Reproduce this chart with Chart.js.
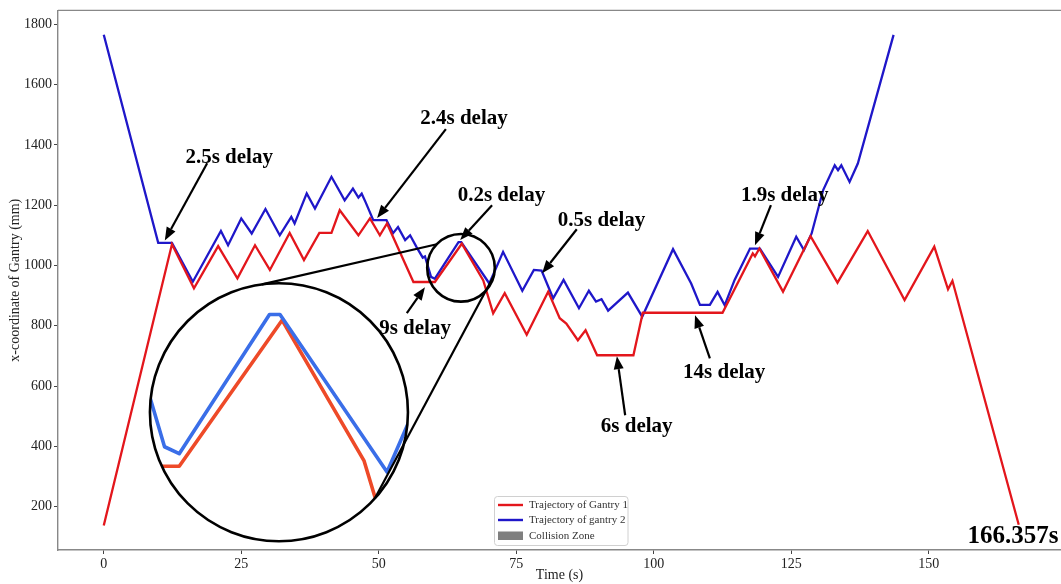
<!DOCTYPE html>
<html>
<head>
<meta charset="utf-8">
<script src="https://cdn.jsdelivr.net/npm/chart.js@4.4.1/dist/chart.umd.min.js"></script>
<style>
  html, body { margin: 0; padding: 0; background: #fff; overflow: hidden; }
  #wrap { width: 1061px; height: 584px; position: relative; }
</style>
</head>
<body>
<div id="wrap"><canvas id="c" width="1061" height="584"></canvas></div>
<script>
// Gantry 1 trajectory: time (s) and x-coordinate (mm)
const gantry1Time = [0, 12.4, 16.4, 20.8, 24.3, 27.5, 30.2, 33.8, 36.4, 39.2, 41.4, 42.9, 46.3, 48.4, 50.2, 51.5,
  56.3, 60.2, 65.1, 69.0, 70.8, 72.9, 76.9, 80.8, 82.9, 84.1, 86.2, 87.6, 89.7, 90.2, 96.3, 98.0, 112.5,
  118.0, 118.4, 119.2, 123.5, 128.5, 133.4, 138.9, 145.6, 151.0, 153.5, 154.3, 166.357];
const gantry1Pos = [137, 1070, 924, 1064, 957, 1067, 985, 1108, 1018, 1108, 1108, 1183, 1100, 1156, 1100, 1139,
  945, 945, 1072, 950, 841, 908, 770, 913, 825, 807, 752, 785, 702, 702, 702, 843, 843,
  1040, 1030, 1056, 913, 1097, 943, 1114, 885, 1062, 921, 949, 140];

// Gantry 2 trajectory: time (s) and x-coordinate (mm)
const gantry2Time = [0, 9.9, 12.4, 16.2, 21.3, 22.6, 25.0, 26.9, 29.4, 32.0, 34.1, 34.7, 36.9, 38.4, 41.4, 43.8,
  45.3, 46.3, 46.9, 47.6, 49.0, 51.4, 52.6, 53.5, 54.8, 55.7, 56.9, 58.0, 58.4, 59.5, 60.2, 64.5, 65.0,
  70.1, 72.6, 76.1, 78.2, 79.6, 81.7, 83.6, 86.4, 88.2, 89.5, 90.5, 91.7, 95.3, 97.9, 103.5, 106.8,
  108.4, 110.2, 111.6, 112.9, 114.7, 117.5, 119.3, 122.6, 125.9, 127.3, 128.7, 130.8, 132.9, 133.5,
  134.1, 135.6, 137.1, 143.6];
const gantry2Pos = [1765, 1075, 1075, 946, 1114, 1067, 1156, 1106, 1187, 1100, 1161, 1139, 1239, 1189, 1294, 1216,
  1255, 1225, 1238, 1210, 1150, 1150, 1107, 1127, 1084, 1100, 1060, 1026, 1030, 962, 956, 1077, 1077,
  940, 1045, 916, 985, 983, 891, 952, 858, 916, 880, 888, 850, 910, 830, 1054, 940,
  869, 869, 912, 868, 952, 1056, 1056, 962, 1095, 1051, 1106, 1250, 1332, 1316,
  1332, 1277, 1338, 1765];

const xTickValues = [0, 25, 50, 75, 100, 125, 150];
const yTickValues = [200, 400, 600, 800, 1000, 1200, 1400, 1600, 1800];
const legendLabels = ['Trajectory of Gantry 1', 'Trajectory of gantry 2', 'Collision Zone'];

// Delay callouts: label, label centre, arrow tail and arrow tip, all in (s, mm)
const delayText = ['2.5s delay', '2.4s delay', '0.2s delay', '0.5s delay', '9s delay', '6s delay', '14s delay', '1.9s delay'];
const delayLabelAt = [[22.8, 1359], [65.5, 1488], [72.3, 1233], [90.5, 1150], [56.6, 792], [96.9, 464], [112.8, 643], [123.8, 1233]];
const delayArrowTail = [[18.8, 1339], [62.2, 1452], [70.6, 1200], [86.0, 1120], [55.1, 842], [94.8, 503], [110.2, 692], [121.3, 1200]];
const delayArrowTip = [[11.1, 1083], [49.7, 1157], [64.8, 1084], [79.7, 974], [58.4, 928], [93.3, 699], [107.5, 835], [118.4, 1067]];
const totalTimeText = '166.357s';
const totalTimeAt = [165.3, 100];

// Magnifier: small lens over the 0.2s-delay crossing, large lens with the enlarged view
const lensSmall = { center: [64.95, 992], r: 33.8 };
const lensBig = { center: [31.85, 513], r: 129 };
// connector lines between the lenses, as angles (deg) on [large, small] circle
const lensLinks = [[-97.6, -135.7], [42, 13.6]];

const RED = '#e3161c', BLUE = '#1f17c9';
const INSET_RED = '#ee4a28', INSET_BLUE = '#3a6ee8';
const SERIF = "'Liberation Serif', 'Times New Roman', serif";

Chart.defaults.font.family = SERIF;

function pts(ts, vs) { return ts.map((t, i) => ({ x: t, y: vs[i] })); }

function arrow(ctx, x0, y0, x1, y1) {
  const a = Math.atan2(y1 - y0, x1 - x0);
  const L = 13, W = 5;
  const bx = x1 - L * Math.cos(a), by = y1 - L * Math.sin(a);
  ctx.beginPath();
  ctx.moveTo(x0, y0);
  ctx.lineTo(bx, by);
  ctx.stroke();
  ctx.beginPath();
  ctx.moveTo(x1, y1);
  ctx.lineTo(bx + W * Math.sin(a), by - W * Math.cos(a));
  ctx.lineTo(bx - W * Math.sin(a), by + W * Math.cos(a));
  ctx.closePath();
  ctx.fill();
}

const overlay = {
  id: 'overlay',
  afterDatasetsDraw(chart) {
    const { ctx, scales: { x, y } } = chart;
    const P = (t, v) => [x.getPixelForValue(t), y.getPixelForValue(v)];
    const [sx, sy] = P(...lensSmall.center);
    const [bx, by] = P(...lensBig.center);
    const k = lensBig.r / lensSmall.r;

    // enlarged view inside the large lens
    ctx.save();
    ctx.beginPath();
    ctx.arc(bx, by, lensBig.r, 0, Math.PI * 2);
    ctx.fillStyle = '#fff';
    ctx.fill();
    ctx.clip();
    [[gantry1Time, gantry1Pos, INSET_RED], [gantry2Time, gantry2Pos, INSET_BLUE]].forEach(([ts, vs, col]) => {
      ctx.beginPath();
      ts.forEach((t, i) => {
        const [px, py] = P(t, vs[i]);
        const qx = bx + k * (px - sx), qy = by + k * (py - sy);
        if (i) ctx.lineTo(qx, qy); else ctx.moveTo(qx, qy);
      });
      ctx.strokeStyle = col;
      ctx.lineWidth = 3.6;
      ctx.lineJoin = 'round';
      ctx.stroke();
    });
    ctx.restore();

    // lens outlines and connectors
    ctx.save();
    ctx.strokeStyle = '#000';
    ctx.lineWidth = 2.6;
    ctx.beginPath(); ctx.arc(bx, by, lensBig.r, 0, Math.PI * 2); ctx.stroke();
    ctx.beginPath(); ctx.arc(sx, sy, lensSmall.r, 0, Math.PI * 2); ctx.stroke();
    ctx.lineWidth = 2.2;
    lensLinks.forEach(([aB, aS]) => {
      const rb = aB * Math.PI / 180, rs = aS * Math.PI / 180;
      ctx.beginPath();
      ctx.moveTo(bx + lensBig.r * Math.cos(rb), by + lensBig.r * Math.sin(rb));
      ctx.lineTo(sx + lensSmall.r * Math.cos(rs), sy + lensSmall.r * Math.sin(rs));
      ctx.stroke();
    });

    // delay callouts
    ctx.fillStyle = '#000';
    ctx.lineWidth = 2.2;
    delayText.forEach((txt, i) => {
      const [tx, ty] = P(...delayArrowTail[i]);
      const [hx, hy] = P(...delayArrowTip[i]);
      arrow(ctx, tx, ty, hx, hy);
    });
    ctx.font = `bold 21px ${SERIF}`;
    ctx.textAlign = 'center';
    ctx.textBaseline = 'middle';
    delayText.forEach((txt, i) => {
      const [lx, ly] = P(...delayLabelAt[i]);
      ctx.fillText(txt, lx, ly);
    });
    ctx.font = `bold 25px ${SERIF}`;
    const [ex, ey] = P(...totalTimeAt);
    ctx.fillText(totalTimeText, ex, ey, 91);

    // legend
    const lx = 494.5, ly = 496.5, lw = 133.5, lh = 49;
    ctx.beginPath();
    ctx.roundRect(lx, ly, lw, lh, 3);
    ctx.fillStyle = 'rgba(255,255,255,0.85)';
    ctx.fill();
    ctx.strokeStyle = '#d0d0d0';
    ctx.lineWidth = 1;
    ctx.stroke();
    const rows = [505, 520, 535.5];
    ctx.font = `11px ${SERIF}`;
    ctx.textAlign = 'left';
    legendLabels.forEach((lab, i) => {
      const yy = rows[i];
      if (i < 2) {
        ctx.strokeStyle = i === 0 ? RED : BLUE;
        ctx.lineWidth = 2.4;
        ctx.beginPath(); ctx.moveTo(498, yy); ctx.lineTo(523, yy); ctx.stroke();
      } else {
        ctx.fillStyle = '#7f7f7f';
        ctx.fillRect(498, yy - 4, 25, 8.5);
      }
      ctx.fillStyle = '#333';
      ctx.fillText(lab, 529, yy + 0.5);
    });
    ctx.restore();
  },
  afterDraw(chart) {
    const { ctx, chartArea } = chart;
    ctx.save();
    ctx.strokeStyle = '#888';
    ctx.lineWidth = 1.4;
    ctx.beginPath();
    ctx.moveTo(chartArea.left, chartArea.top);
    ctx.lineTo(chartArea.right, chartArea.top);
    ctx.stroke();
    ctx.restore();
  }
};

new Chart(document.getElementById('c'), {
  type: 'line',
  data: {
    datasets: [
      { label: legendLabels[0], data: pts(gantry1Time, gantry1Pos), borderColor: RED, borderWidth: 2.3,
        pointRadius: 0, tension: 0, fill: false },
      { label: legendLabels[1], data: pts(gantry2Time, gantry2Pos), borderColor: BLUE, borderWidth: 2.3,
        pointRadius: 0, tension: 0, fill: false }
    ]
  },
  options: {
    responsive: false,
    animation: false,
    devicePixelRatio: 1,
    layout: { padding: { top: 10, left: 0, right: 0, bottom: 0 } },
    plugins: { legend: { display: false }, tooltip: { enabled: false } },
    scales: {
      x: {
        type: 'linear', min: -8.32, max: 174.04,
        afterBuildTicks: s => { s.ticks = xTickValues.map(v => ({ value: v })); },
        afterFit: s => { s.height = 34; },
        grid: { display: true, drawOnChartArea: false, drawTicks: true, tickLength: 4, tickColor: '#444', tickWidth: 1 },
        border: { display: true, color: '#888', width: 1.4 },
        ticks: { color: '#222', font: { size: 14, family: SERIF }, padding: 2, maxRotation: 0,
          callback: v => String(v) },
        title: { display: true, text: 'Time (s)', color: '#222', font: { size: 14, family: SERIF, lineHeight: 1.2 },
          padding: { top: 0, bottom: 0 } }
      },
      y: {
        type: 'linear', min: 56, max: 1846,
        afterBuildTicks: s => { s.ticks = yTickValues.map(v => ({ value: v })); },
        afterFit: s => { s.width = 58; },
        grid: { display: true, drawOnChartArea: false, drawTicks: true, tickLength: 4, tickColor: '#444', tickWidth: 1 },
        border: { display: true, color: '#888', width: 1.4 },
        ticks: { color: '#222', font: { size: 14, family: SERIF }, padding: 2, callback: v => String(v) },
        title: { display: true, text: 'x-coordinate of Gantry (mm)', color: '#222',
          font: { size: 14, family: SERIF, lineHeight: 1.2 }, padding: { top: 7, bottom: 0 } }
      }
    }
  },
  plugins: [overlay]
});
</script>
</body>
</html>
